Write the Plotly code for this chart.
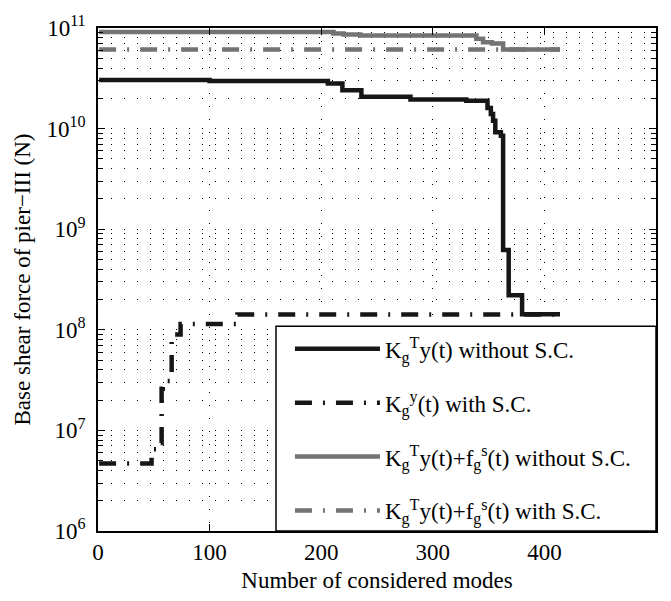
import plotly.graph_objects as go

# ---------------- data ----------------
black_solid_modes = [1, 100, 206, 219, 236, 280, 330, 349, 352, 354, 356, 361, 363, 368, 380, 414]
black_solid_vals = [3.05e10, 2.98e10, 2.8e10, 2.4e10, 2.07e10, 1.95e10, 1.89e10, 1.6e10, 1.4e10,
                    1.2e10, 9.2e9, 8.5e9, 6.2e8, 2.2e8, 1.43e8, 1.43e8]

black_dash_modes = [1, 48, 50, 52, 57, 58, 66, 68, 74, 125, 414]
black_dash_vals = [4.7e6, 5.5e6, 6.5e6, 7.5e6, 2.6e7, 3.1e7, 8.5e7, 9.0e7, 1.14e8, 1.42e8, 1.42e8]

gray_solid_modes = [1, 211, 220, 235, 339, 345, 353, 363, 414]
gray_solid_vals = [9.1e10, 8.8e10, 8.6e10, 8.4e10, 7.8e10, 7.2e10, 7.0e10, 6.1e10, 6.1e10]

gray_dash_modes = [1, 414]
gray_dash_vals = [6.1e10, 6.1e10]

series_names = [
    "K<sub>g</sub><sup>T</sup>y(t) without S.C.",
    "K<sub>g</sub><sup>y</sup>(t) with S.C.",
    "K<sub>g</sub><sup>T</sup>y(t)+f<sub>g</sub><sup>s</sup>(t) without S.C.",
    "K<sub>g</sub><sup>T</sup>y(t)+f<sub>g</sub><sup>s</sup>(t) with S.C.",
]

x_ticks = [0, 100, 200, 300, 400, 500]
y_ticks = [1e6, 1e7, 1e8, 1e9, 1e10, 1e11]
y_ticktext = ["10<sup>6</sup>", "10<sup>7</sup>", "10<sup>8</sup>", "10<sup>9</sup>",
              "10<sup>10</sup>", "10<sup>11</sup>"]
y_minor = [k * 10 ** e for e in range(6, 11) for k in range(2, 10)]

# ---------------- styles ----------------
BLACK = "#161616"
GRAY = "#737373"
DASHDOT = "17px,11px,2px,11px"
FONT = "Liberation Serif"
FS = 23

fig = go.Figure()
specs = [
    (black_solid_modes, black_solid_vals, series_names[0], BLACK, "solid"),
    (black_dash_modes, black_dash_vals, series_names[1], BLACK, DASHDOT),
    (gray_solid_modes, gray_solid_vals, series_names[2], GRAY, "solid"),
    (gray_dash_modes, gray_dash_vals, series_names[3], GRAY, DASHDOT),
]
for i, (xs, ys, name, color, dash) in enumerate(specs):
    fig.add_trace(go.Scatter(
        x=xs, y=ys, name=name, mode="lines", line_shape="hv",
        line=dict(color=color, width=4.5, dash=dash),
        legendgroup=f"g{i}",
    ))

# legend frame (white box, black border)
fig.add_shape(type="rect", xref="paper", yref="paper",
              x0=0.319, x1=1.0, y0=0.0, y1=0.407,
              line=dict(color="black", width=1.5), fillcolor="white", layer="above")

grid_dash = "1px,12px"
fig.update_layout(
    width=671, height=601,
    margin=dict(l=98, r=15, t=27, b=68),
    paper_bgcolor="white", plot_bgcolor="white",
    font=dict(family=FONT, size=FS, color="black"),
    showlegend=True,
    legend=dict(x=0.344, y=0.405, xanchor="left", yanchor="top",
                bgcolor="rgba(0,0,0,0)", borderwidth=0,
                font=dict(family=FONT, size=FS, color="black"),
                tracegroupgap=21, itemwidth=85),
    xaxis=dict(
        range=[0, 500], tickvals=x_ticks, ticks="inside", ticklen=7,
        tickcolor="black", showline=True, linecolor="black", linewidth=1.5,
        mirror="allticks", showgrid=True, gridcolor="black", gridwidth=1,
        griddash=grid_dash, zeroline=False,
        title=dict(text="Number of considered modes", standoff=8,
                   font=dict(family=FONT, size=FS)),
        tickfont=dict(family=FONT, size=FS),
    ),
    yaxis=dict(
        type="log", range=[6, 11], tickvals=y_ticks, ticktext=y_ticktext,
        ticks="inside", ticklen=7, tickcolor="black", showline=True,
        linecolor="black", linewidth=1.5, mirror="allticks",
        showgrid=True, gridcolor="black", gridwidth=1, griddash=grid_dash,
        zeroline=False,
        minor=dict(tickvals=y_minor, ticks="inside", ticklen=5, tickcolor="black",
                   showgrid=True, gridcolor="black", gridwidth=1, griddash=grid_dash),
        title=dict(text="Base shear force of pier\u2212III (N)", standoff=10,
                   font=dict(family=FONT, size=FS)),
        tickfont=dict(family=FONT, size=FS),
        ticklabelstandoff=6,
    ),
)

fig.write_html("out.html")
